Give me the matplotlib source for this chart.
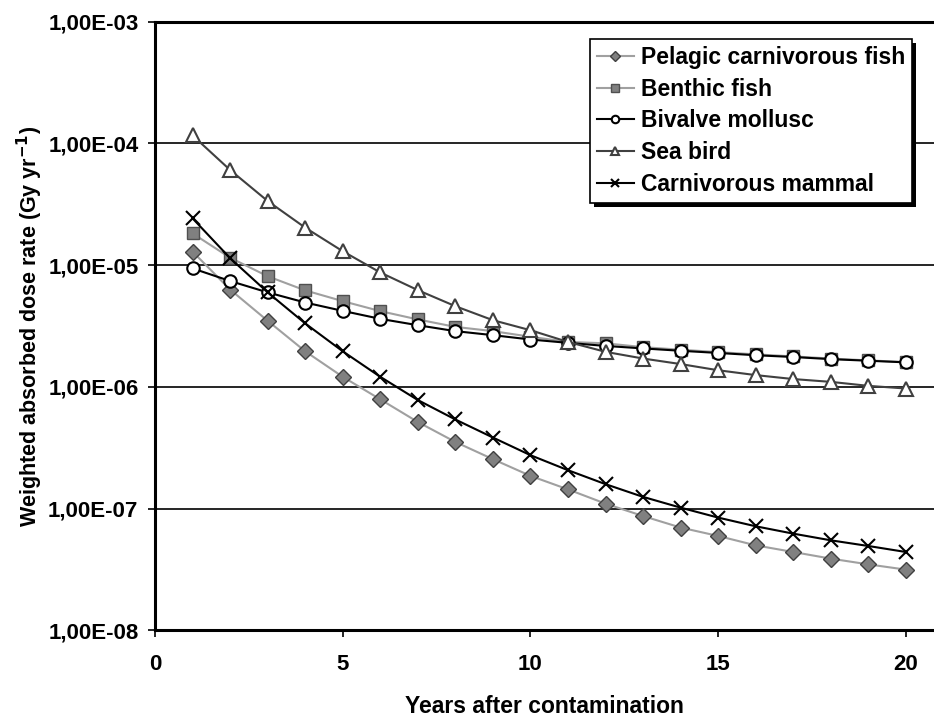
import numpy as np
import matplotlib
matplotlib.use("Agg")
import matplotlib.pyplot as plt
from matplotlib.ticker import FixedLocator, FuncFormatter, NullLocator
import matplotlib.patheffects as pe

years = list(range(1, 21))

pelagic_fish = [1.29e-5, 6.3e-6, 3.49e-6, 1.96e-6, 1.21e-6, 7.9e-7, 5.15e-7, 3.53e-7,
                2.55e-7, 1.86e-7, 1.44e-7, 1.10e-7, 8.7e-8, 7.0e-8, 5.97e-8, 5.0e-8,
                4.41e-8, 3.89e-8, 3.49e-8, 3.16e-8]
benthic_fish = [1.82e-5, 1.15e-5, 8.1e-6, 6.2e-6, 5.06e-6, 4.19e-6, 3.58e-6, 3.11e-6,
                2.87e-6, 2.58e-6, 2.34e-6, 2.28e-6, 2.12e-6, 2.02e-6, 1.93e-6, 1.85e-6,
                1.78e-6, 1.71e-6, 1.65e-6, 1.60e-6]
bivalve_mollusc = [9.4e-6, 7.4e-6, 5.97e-6, 4.93e-6, 4.21e-6, 3.62e-6, 3.21e-6, 2.87e-6,
                   2.66e-6, 2.45e-6, 2.30e-6, 2.17e-6, 2.07e-6, 1.98e-6, 1.90e-6, 1.82e-6,
                   1.76e-6, 1.69e-6, 1.64e-6, 1.59e-6]
sea_bird = [1.16e-4, 6.04e-5, 3.36e-5, 2.03e-5, 1.30e-5, 8.7e-6, 6.23e-6, 4.6e-6,
            3.53e-6, 2.92e-6, 2.34e-6, 1.94e-6, 1.71e-6, 1.54e-6, 1.37e-6, 1.25e-6,
            1.16e-6, 1.10e-6, 1.02e-6, 0.97e-6]
carnivorous_mammal = [2.42e-5, 1.14e-5, 5.97e-6, 3.32e-6, 1.96e-6, 1.21e-6, 7.8e-7, 5.4e-7,
                      3.84e-7, 2.75e-7, 2.07e-7, 1.59e-7, 1.25e-7, 1.02e-7, 8.45e-8, 7.17e-8,
                      6.24e-8, 5.5e-8, 4.94e-8, 4.41e-8]

series_names = ["Pelagic carnivorous fish", "Benthic fish", "Bivalve mollusc",
                "Sea bird", "Carnivorous mammal"]
x_ticks = [0, 5, 10, 15, 20]
y_ticks = [1e-8, 1e-7, 1e-6, 1e-5, 1e-4, 1e-3]

plt.rcParams['font.family'] = ['Liberation Sans', 'DejaVu Sans']
plt.rcParams['font.weight'] = 'bold'
plt.rcParams['mathtext.default'] = 'bf'

fig = plt.figure(figsize=(9.34, 7.18), dpi=100)
ax = fig.add_axes([0.166, 0.1219, 1.0 - 0.166, 0.970 - 0.1219])

styles = [
    dict(color="#a0a0a0", marker="D", ms=8.5, mfc="#808080", mec="#404040", mew=1.0, lw=1.5),
    dict(color="#a0a0a0", marker="s", ms=8.5, mfc="#808080", mec="#505050", mew=1.0, lw=1.5),
    dict(color="black", marker="o", ms=9, mfc="white", mec="black", mew=1.5, lw=1.5),
    dict(color="#404040", marker="^", ms=10.5, mfc="white", mec="#404040", mew=1.5, lw=1.5),
    dict(color="black", marker="x", ms=10.5, mfc="black", mec="black", mew=1.5, lw=1.5),
]
data = [pelagic_fish, benthic_fish, bivalve_mollusc, sea_bird, carnivorous_mammal]

for name, vals, st in zip(series_names, data, styles):
    ax.plot(years, vals, label=name, **st)

ax.set_yscale("log")
ax.set_ylim(1e-8, 1e-3)
ax.set_xlim(0, 20.75)
ax.xaxis.set_major_locator(FixedLocator(x_ticks))
ax.yaxis.set_major_locator(FixedLocator(y_ticks))
ax.yaxis.set_minor_locator(NullLocator())


def fmt(v, pos):
    e = int(round(np.log10(v)))
    m = v / 10 ** e
    return f"{m:.2f}".replace(".", ",") + f"E{e:+03d}"


ax.yaxis.set_major_formatter(FuncFormatter(fmt))
ax.grid(axis="y", which="major", color="black", lw=1.2)
ax.set_axisbelow(True)

for s in ["left", "bottom", "top"]:
    ax.spines[s].set_linewidth(2.2)
ax.spines["right"].set_visible(False)

ax.tick_params(axis="both", which="major", direction="out", length=5, width=1.2,
               labelsize=16, pad=7)
ax.tick_params(axis="x", pad=12)
for lab in ax.get_xticklabels() + ax.get_yticklabels():
    lab.set_fontweight("bold")

ax.set_xlabel("Years after contamination", fontsize=16.5, fontweight="bold", labelpad=14)
ax.set_ylabel("Weighted absorbed dose rate (Gy yr$^{-1}$)", fontsize=15.5,
              fontweight="bold", labelpad=2)

leg = ax.legend(loc="upper right", bbox_to_anchor=(0.9715, 1 - 17.4 / 609),
                fontsize=16.5, frameon=True, fancybox=False, shadow=False,
                handlelength=1.6, handletextpad=0.3, borderpad=0.3, labelspacing=0.38,
                markerscale=0.6, borderaxespad=0)
frame = leg.get_frame()
frame.set_edgecolor("black")
frame.set_linewidth(1.2)
frame.set_facecolor("white")
frame.set_alpha(1)
frame.set_path_effects([pe.SimplePatchShadow(offset=(3, -3), shadow_rgbFace="black", alpha=1),
                        pe.Normal()])
for t in leg.get_texts():
    t.set_fontweight("bold")

fig.savefig("out.png", dpi=100)
